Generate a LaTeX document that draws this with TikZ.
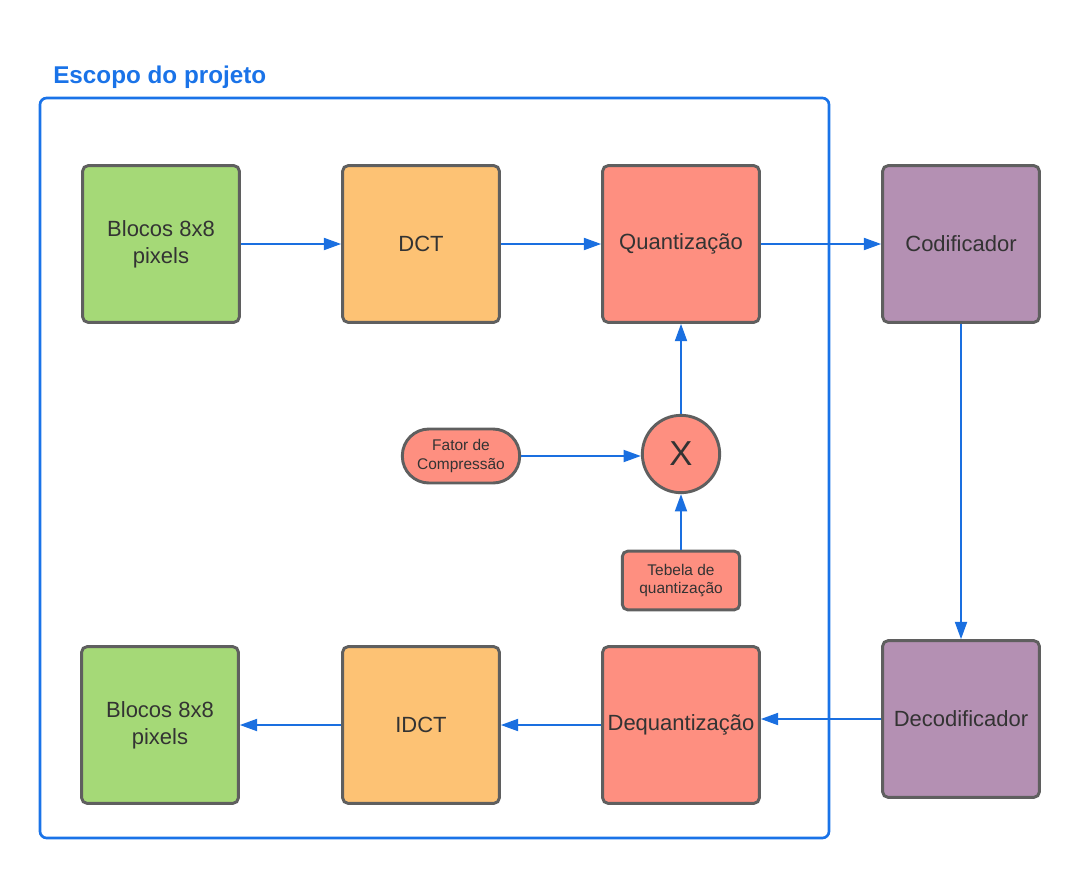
\documentclass[tikz,border=0pt]{standalone}
\usepackage{fontspec}
\setmainfont{Liberation Sans}
\usetikzlibrary{arrows.meta,shapes.geometric}
\definecolor{frameblue}{HTML}{1A73E8}
\definecolor{arrowblue}{HTML}{1A6FE0}
\definecolor{bordergray}{HTML}{5F5F5F}
\definecolor{txt}{HTML}{333333}
\definecolor{cgreen}{HTML}{A5D977}
\definecolor{corange}{HTML}{FDC274}
\definecolor{cred}{HTML}{FE8F80}
\definecolor{cpurple}{HTML}{B490B3}
\begin{document}
\begin{tikzpicture}[x=0.75pt,y=-0.75pt,
  blk/.style={draw=bordergray,line width=2.2pt,rounded corners=4pt,minimum width=117.5pt,minimum height=117.5pt,align=center,text=txt,font=\fontsize{16.5}{20}\selectfont,inner sep=0pt},
  small/.style={draw=bordergray,line width=2.2pt,fill=cred,align=center,text=txt,font=\fontsize{11.6}{14.2}\selectfont,inner sep=0pt},
  conn/.style={draw=arrowblue,line width=1.5pt,-{Triangle[length=13pt,width=9pt]}}]
\useasboundingbox (0,0) rectangle (1081,879);
% frame
\draw[frameblue,line width=2pt,rounded corners=5pt] (40,98) rectangle (829,838);
\node[anchor=west,text=frameblue,font=\bfseries\fontsize{18.2}{22}\selectfont,inner sep=0pt] (title) at (53,77) {Escopo do projeto};
% blocks
\node[blk,fill=cgreen] (b1) at (161,244) {Blocos 8x8\\pixels};
\node[blk,fill=corange] (dct) at (421,244) {DCT};
\node[blk,fill=cred] (q) at (681,244) {Quantização};
\node[blk,fill=cpurple] (cod) at (961,244) {Codificador};
\node[blk,fill=cgreen] (b2) at (160,725) {Blocos 8x8\\pixels};
\node[blk,fill=corange] (idct) at (421,725) {IDCT};
\node[blk,fill=cred] (dq) at (681,725) {Dequantização};
\node[blk,fill=cpurple] (dec) at (961,719) {Decodificador};
% multiplier
\node[draw=bordergray,line width=2.2pt,fill=cred,circle,minimum size=58pt,inner sep=0pt,text=txt,font=\fontsize{26}{30}\selectfont] (x) at (681,454) {X};
\node[small,rounded corners=20pt,minimum width=88pt,minimum height=40.5pt] (fator) at (461,456) {Fator de\\Compressão};
\node[small,rounded corners=4pt,minimum width=88pt,minimum height=44pt] (tab) at (681,580.5) {Tebela de\\quantização};
% connectors
\draw[conn] (b1.east) -- (dct.west);
\draw[conn] (dct.east) -- (q.west);
\draw[conn] (q.east) -- (cod.west);
\draw[conn] (cod.south) -- (dec.north);
\draw[conn] (dec.west) -- (dec.west -| dq.east);
\draw[conn] (dq.west) -- (idct.east);
\draw[conn] (idct.west) -- (b2.east);
\draw[conn] (fator.east) -- (fator.east -| x.west);
\draw[conn] (tab.north) -- (x.south);
\draw[conn] (x.north) -- (q.south);
\end{tikzpicture}
\end{document}
